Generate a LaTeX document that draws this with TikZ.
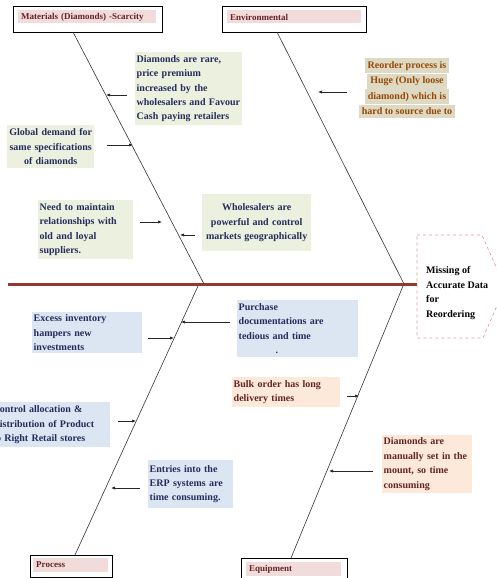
\documentclass[tikz,border=0pt]{standalone}
\usepackage{fontspec}
\setmainfont{Liberation Serif}
\usetikzlibrary{arrows.meta,calc}
\definecolor{gfill}{HTML}{EBF1DE}
\definecolor{bfill}{HTML}{DCE6F2}
\definecolor{pfill}{HTML}{FDE9D9}
\definecolor{kfill}{HTML}{DDD9C3}
\definecolor{lfill}{HTML}{F2DCDB}
\definecolor{navy}{HTML}{242C5C}
\definecolor{maroon}{HTML}{632523}
\definecolor{rtext}{HTML}{984806}
\definecolor{spinec}{HTML}{953735}
\definecolor{headc}{HTML}{E29A9A}
\hyphenpenalty=10000
\exhyphenpenalty=10000
\tikzset{
  cbox/.style={anchor=north west, inner xsep=1.5pt, inner ysep=1pt, align=left,
    font=\bfseries\fontsize{10}{14.4}\selectfont},
  gbox/.style={cbox, fill=gfill, text=navy},
  bbox/.style={cbox, fill=bfill, text=navy},
  pbox/.style={cbox, fill=pfill, text=maroon},
  lab/.style={draw=black, line width=0.7pt, inner sep=0pt, anchor=north west},
  labin/.style={fill=lfill, anchor=west, inner xsep=3pt, inner ysep=0pt, text=maroon,
    font=\bfseries\fontsize{9}{10}\selectfont, align=left},
  bone/.style={draw=black!80, line width=0.6pt},
  arr/.style={-{Latex[length=4pt,width=3.2pt]}, line width=0.7pt, draw=black!85}
}
\begin{document}
\hyphenpenalty=10000
\exhyphenpenalty=10000
\begin{tikzpicture}[x=1pt,y=-1pt]
\useasboundingbox (0,0) rectangle (496,578);

% category labels
\node[lab, minimum width=149pt, minimum height=26pt] (matbox) at (13,6) {};
\node[labin, text width=132pt, minimum height=13pt] (mat) at (18,17) {Materials (Diamonds) -Scarcity};
\node[lab, minimum width=144pt, minimum height=26pt] (envbox) at (222,6) {};
\node[labin, text width=128pt, minimum height=13pt] (env) at (227,17) {Environmental};
\node[lab, minimum width=82pt, minimum height=22pt] (probox) at (30,555) {};
\node[labin, text width=69pt, minimum height=14pt] (pro) at (33,565) {Process};
\node[lab, minimum width=106pt, minimum height=20pt] (eqbox) at (241,558) {};
\node[labin, text width=89pt, minimum height=14pt] (eq) at (246,569) {Equipment};

% head
\draw[headc, dashed, line width=0.7pt] (417,235) -- (482,235) -- (505,287) -- (483,338) -- (417,338) -- cycle;
\node[anchor=west, align=left, inner sep=0pt, font=\bfseries\fontsize{10}{14.5}\selectfont] (head) at (426,293)
  {Missing of\\Accurate Data\\for\\Reordering};

% spine and bones
\coordinate (tail) at (8,284);
\coordinate (headL) at (417,284);
\draw[spinec, line width=3pt] (tail) -- (headL);
\coordinate (b1s) at (73,32);   \coordinate (b1e) at (204,284);
\coordinate (b2s) at (277,32);  \coordinate (b2e) at (404,284);
\coordinate (b3s) at (198,286); \coordinate (b3e) at (75,555);
\coordinate (b4s) at (403,286); \coordinate (b4e) at (291,558);
\draw[bone] (b1s) -- (b1e);
\draw[bone] (b2s) -- (b2e);
\draw[bone] (b3s) -- (b3e);
\draw[bone] (b4s) -- (b4e);

% cause boxes
\node[gbox, text width=104pt, minimum height=73pt] (c1) at (135,52)
  {Diamonds are rare,\\price premium\\increased by the\\wholesalers and Favour\\Cash paying retailers};
\node[gbox, text width=84pt, minimum height=43pt, align=center] (c2) at (7,125)
  {Global demand for\\same specifications\\of diamonds};
\node[gbox, text width=92pt, minimum height=59pt] (c3) at (38,200)
  {Need to maintain\\relationships with\\old and loyal\\suppliers.};
\node[gbox, text width=106pt, minimum height=57pt, align=center] (c4) at (202,194)
  {Wholesalers are\\powerful and control\\markets geographically\\[19pt]};
\node[anchor=center, align=center, inner sep=0pt, text=rtext,
  font=\bfseries\fontsize{10}{15.6}\selectfont] (c5) at (407,88)
  {\colorbox{kfill}{Reorder process is}\\\colorbox{kfill}{Huge (Only loose}\\\colorbox{kfill}{diamond) which is}\\\colorbox{kfill}{hard to source due to}};
\node[bbox, text width=107pt, minimum height=41pt] (c6) at (32,312)
  {Excess inventory\\hampers new\\investments};
\node[bbox, text width=118pt, minimum height=57pt] (c7) at (237,300)
  {Purchase\\documentations are\\tedious and time\\\hspace*{37pt}.};
\node[pbox, text width=105pt, minimum height=30pt] (c8) at (232,377)
  {Bulk order has long\\delivery times};
\node[bbox, text width=116pt, minimum height=45pt] (c9) at (-9,402)
  {Control allocation \&\\Distribution of Product\\to Right Retail stores};
\node[bbox, text width=82pt, minimum height=48pt] (c10) at (148,460)
  {Entries into the\\ERP systems are\\time consuming.};
\node[pbox, text width=87pt, minimum height=58pt] (c11) at (382,435)
  {Diamonds are\\manually set in the\\mount, so time\\consuming};

% arrows
\coordinate (a1s) at (127,95);  \coordinate (a1e) at (106,95);
\coordinate (a2s) at (107,145); \coordinate (a2e) at (133,145);
\coordinate (a3s) at (140,222); \coordinate (a3e) at (162,222);
\coordinate (a4s) at (195,235); \coordinate (a4e) at (180,235);
\coordinate (a5s) at (347,92);  \coordinate (a5e) at (318,92);
\coordinate (a6s) at (148,338); \coordinate (a6e) at (174,338);
\coordinate (a7s) at (230,322); \coordinate (a7e) at (181,322);
\coordinate (a8s) at (347,396); \coordinate (a8e) at (359,396);
\coordinate (a9s) at (118,421); \coordinate (a9e) at (136,421);
\coordinate (a10s) at (140,488); \coordinate (a10e) at (111,488);
\coordinate (a11s) at (373,471); \coordinate (a11e) at (329,471);
\foreach \i in {1,...,11} \draw[arr] (a\i s) -- (a\i e);
\end{tikzpicture}
\end{document}
